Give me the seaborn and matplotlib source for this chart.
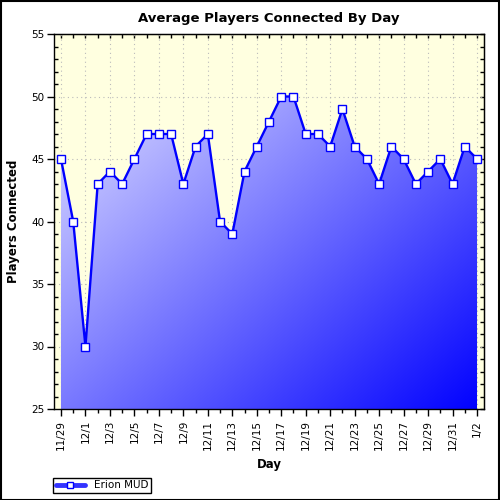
import numpy as np
import matplotlib
matplotlib.use("Agg")
import matplotlib.pyplot as plt
import seaborn as sns
from matplotlib.patches import Rectangle, PathPatch
from matplotlib.lines import Line2D
from matplotlib.ticker import MultipleLocator

days = ['11/29', '11/30', '12/1', '12/2', '12/3', '12/4', '12/5', '12/6', '12/7',
        '12/8', '12/9', '12/10', '12/11', '12/12', '12/13', '12/14', '12/15',
        '12/16', '12/17', '12/18', '12/19', '12/20', '12/21', '12/22', '12/23',
        '12/24', '12/25', '12/26', '12/27', '12/28', '12/29', '12/30', '12/31',
        '1/1', '1/2']
players = [45, 40, 30, 43, 44, 43, 45, 47, 47, 47, 43, 46, 47, 40, 39, 44, 46,
           48, 50, 50, 47, 47, 46, 49, 46, 45, 43, 46, 45, 43, 44, 45, 43, 46, 45]
series_name = 'Erion MUD'
title = 'Average Players Connected By Day'
y_min, y_max = 25, 55

sns.set_style('white')
plt.rcParams['font.family'] = ['DejaVu Sans']
plt.rcParams['text.color'] = 'black'
plt.rcParams['axes.labelcolor'] = 'black'
plt.rcParams['xtick.color'] = 'black'
plt.rcParams['ytick.color'] = 'black'

fig = plt.figure(figsize=(5, 5), dpi=100)
ax = fig.add_axes([0.108, 0.182, 0.860, 0.750])

x = np.arange(len(days))
xlim = (-0.57, len(days) - 1 + 0.57)
ax.set_xlim(*xlim)
ax.set_ylim(y_min, y_max)
ax.set_facecolor('#FFFFE0')

# gradient fill under the line
poly = ax.fill_between(x, players, y_min, color='none', lw=0)
path = poly.get_paths()[0]
patch = PathPatch(path, transform=ax.transData, facecolor='none', edgecolor='none')
ax.add_patch(patch)
H, W = 300, 300
u = np.linspace(0, 1, W)[None, :]
v = np.linspace(0, 1, H)[:, None]
t = (u + v) / 2
c0 = np.array([0.96, 0.96, 1.0])
c1 = np.array([0.0, 0.0, 1.0])
img = c0 * (1 - t[..., None]) + c1 * t[..., None]
im = ax.imshow(img, extent=[xlim[0], xlim[1], y_min, y_max], aspect='auto',
               origin='upper', zorder=1, interpolation='bilinear')
im.set_clip_path(patch)

sns.lineplot(x=x, y=players, ax=ax, color='#0000FF', lw=1.7, marker='s',
             markersize=5.5, markerfacecolor='white', markeredgecolor='#0000FF',
             markeredgewidth=1.0, zorder=3)

# ticks
ax.set_xticks(x[::2])
ax.set_xticklabels(days[::2], rotation=90, fontsize=7.5)
ax.xaxis.set_minor_locator(MultipleLocator(1))
ax.yaxis.set_major_locator(MultipleLocator(5))
ax.yaxis.set_minor_locator(MultipleLocator(1))
ax.tick_params(axis='x', which='major', direction='out', length=5, width=1, bottom=True, pad=3)
ax.tick_params(axis='x', which='minor', direction='out', length=3, width=1, bottom=True)
ax.tick_params(axis='y', which='major', direction='out', length=5, width=1, left=True, labelsize=7.5, pad=2)
ax.tick_params(axis='y', which='minor', direction='in', length=3, width=1, left=True)

top = ax.secondary_xaxis('top')
top.xaxis.set_major_locator(MultipleLocator(1))
top.tick_params(direction='in', length=3, width=1, labeltop=False)
right = ax.secondary_yaxis('right')
right.yaxis.set_major_locator(MultipleLocator(1))
right.tick_params(direction='in', length=3, width=1, labelright=False)

ax.grid(which='major', ls=(0, (1, 3)), color='#BBBBBB', lw=0.8, zorder=0.5)
ax.set_axisbelow(True)

for s in ax.spines.values():
    s.set_color('black')
    s.set_linewidth(1)

ax.set_title(title, fontsize=9.5, fontweight='bold', pad=9, color='black')
ax.set_xlabel('Day', fontsize=8.5, fontweight='bold', labelpad=6)
ax.set_ylabel('Players Connected', fontsize=8.5, fontweight='bold', labelpad=8)

handle = Line2D([], [], color='#3333FF', lw=3.5, marker='s', markersize=5,
                markerfacecolor='white', markeredgecolor='#0000FF', markeredgewidth=1)
leg = fig.legend([handle], [series_name], loc='lower left',
                 bbox_to_anchor=(0.106, 0.014), frameon=True, fancybox=False,
                 edgecolor='black', fontsize=7.5, borderpad=0.25,
                 handlelength=2.8, handletextpad=0.9, borderaxespad=0)
leg.get_frame().set_linewidth(1)
leg.get_frame().set_alpha(1)

fig.patches.append(Rectangle((0.001, 0.001), 0.997, 0.997, transform=fig.transFigure,
                             fill=False, edgecolor='black', lw=1.5))

fig.savefig('out.png', dpi=100, facecolor='white')
